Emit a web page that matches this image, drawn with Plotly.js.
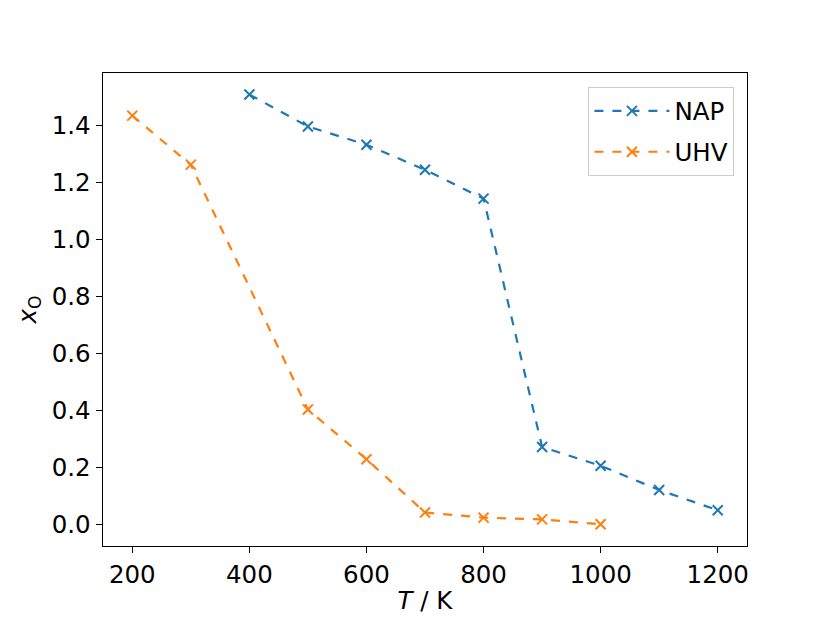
<!DOCTYPE html>
<html><head><meta charset="utf-8">
<script src="https://cdn.plot.ly/plotly-3.0.1.min.js"></script>
<style>body{margin:0;background:#fff}#chart{width:830px;height:623px}</style>
</head><body><div id="chart"></div>
<script>
const napT = [400, 500, 600, 700, 800, 900, 1000, 1100, 1200];
const napX = [1.508, 1.396, 1.332, 1.244, 1.143, 0.272, 0.206, 0.121, 0.050];
const uhvT = [200, 300, 500, 600, 700, 800, 900, 1000];
const uhvX = [1.434, 1.262, 0.403, 0.229, 0.042, 0.024, 0.018, 0.001];
const xTicks = [200, 400, 600, 800, 1000, 1200];
const yTicks = [0.0, 0.2, 0.4, 0.6, 0.8, 1.0, 1.2, 1.4];

const font = {family: 'DejaVu Sans', size: 24.5, color: '#000'};
const traces = [
  {x: napT, y: napX, name: 'NAP', mode: 'lines+markers', type: 'scatter',
   legendgroup: 'a',
   line: {color: '#1f77b4', dash: 'dash', width: 2.2},
   marker: {symbol: 'x-thin', size: 10, line: {color: '#1f77b4', width: 2}}},
  {x: uhvT, y: uhvX, name: 'UHV', mode: 'lines+markers', type: 'scatter',
   legendgroup: 'b',
   line: {color: '#ff7f0e', dash: 'dash', width: 2.2},
   marker: {symbol: 'x-thin', size: 10, line: {color: '#ff7f0e', width: 2}}}
];
const layout = {
  width: 830, height: 623,
  margin: {l: 103, r: 83, t: 73, b: 77},
  paper_bgcolor: '#fff', plot_bgcolor: '#fff',
  font: font,
  showlegend: true,
  legend: {x: 0.98, y: 0.97, xanchor: 'right', yanchor: 'top',
           bordercolor: '#cccccc', borderwidth: 1.3, bgcolor: 'rgba(255,255,255,0.8)',
           font: font, itemwidth: 75, traceorder: 'grouped', tracegroupgap: 6},
  xaxis: {range: [150, 1250], tickvals: xTicks, ticktext: xTicks.map(String),
          showgrid: false, zeroline: false, showline: true, mirror: true,
          linecolor: '#000', linewidth: 1.4, ticks: 'outside', ticklen: 6, tickwidth: 1.4,
          tickcolor: '#000', tickfont: font,
          title: {text: '<i>T</i> / K', font: font, standoff: 4}},
  yaxis: {range: [-0.0755, 1.5835], tickvals: yTicks, ticktext: yTicks.map(v => v.toFixed(1)),
          showgrid: false, zeroline: false, showline: true, mirror: true,
          linecolor: '#000', linewidth: 1.4, ticks: 'outside', ticklen: 6, tickwidth: 1.4,
          tickcolor: '#000', tickfont: font,
          title: {text: '<i>x</i><sub>O</sub>', font: font, standoff: 8}}
};
Plotly.newPlot('chart', traces, layout, {displayModeBar: false, staticPlot: true});
</script></body></html>
